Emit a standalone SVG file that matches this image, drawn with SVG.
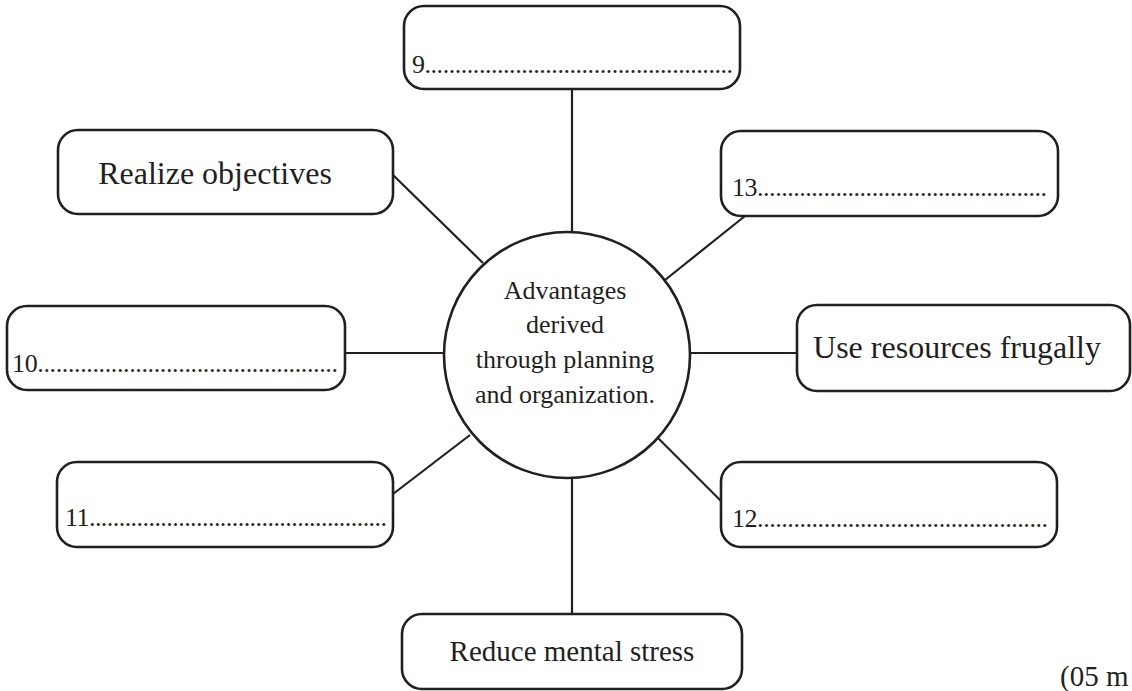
<svg xmlns="http://www.w3.org/2000/svg" width="1132" height="691" viewBox="0 0 1132 691">
<style>
.box{fill:#fff;stroke:#231f20;stroke-width:2.6}
.ln{stroke:#231f20;stroke-width:2.2;fill:none}
.lbl{font-family:"Liberation Serif","Times New Roman",serif;fill:#231f20}
.big{font-size:32px;text-anchor:middle}
.mid{font-size:26px;text-anchor:middle}
.num{font-size:26px}
</style>
<rect width="1132" height="691" fill="#fff"/>
<g id="connectors">
<line class="ln" x1="572" y1="89" x2="572" y2="233"/>
<line class="ln" x1="393" y1="175" x2="483" y2="263"/>
<line class="ln" x1="745" y1="216" x2="665" y2="280"/>
<line class="ln" x1="345" y1="353" x2="445" y2="353"/>
<line class="ln" x1="690" y1="353" x2="797" y2="353"/>
<line class="ln" x1="393" y1="494" x2="470" y2="435"/>
<line class="ln" x1="658" y1="438" x2="721" y2="501"/>
<line class="ln" x1="572" y1="477" x2="572" y2="614"/>
</g>
<g id="center">
<circle class="box" cx="567" cy="355" r="123"/>
<text class="lbl mid" x="565" y="299">Advantages</text>
<text class="lbl mid" x="565" y="333">derived</text>
<text class="lbl mid" x="565" y="368">through planning</text>
<text class="lbl mid" x="565" y="403">and organization.</text>
</g>
<g id="n9">
<rect class="box" x="404" y="6" width="336" height="83" rx="20"/>
<text class="lbl num" x="412" y="73" textLength="321" lengthAdjust="spacing">9...................................................</text>
</g>
<g id="realize">
<rect class="box" x="58" y="130" width="335" height="84" rx="20"/>
<text class="lbl big" x="215" y="184">Realize objectives</text>
</g>
<g id="n13">
<rect class="box" x="721" y="131" width="337" height="85" rx="20"/>
<text class="lbl num" x="732" y="196" textLength="315" lengthAdjust="spacing">13................................................</text>
</g>
<g id="n10">
<rect class="box" x="7" y="306" width="338" height="84" rx="20"/>
<text class="lbl num" x="12" y="372" textLength="326" lengthAdjust="spacing">10.................................................</text>
</g>
<g id="use">
<rect class="box" x="797" y="305" width="333" height="86" rx="20"/>
<text class="lbl big" x="957" y="358">Use resources frugally</text>
</g>
<g id="n11">
<rect class="box" x="57" y="462" width="336" height="85" rx="20"/>
<text class="lbl num" x="65" y="526" textLength="322" lengthAdjust="spacing">11..................................................</text>
</g>
<g id="n12">
<rect class="box" x="721" y="462" width="336" height="85" rx="20"/>
<text class="lbl num" x="732" y="527" textLength="316" lengthAdjust="spacing">12................................................</text>
</g>
<g id="reduce">
<rect class="box" x="402" y="614" width="340" height="75" rx="20"/>
<text class="lbl big" x="572" y="661" style="font-size:29px">Reduce mental stress</text>
</g>
<text class="lbl" x="1060" y="686" style="font-size:29px">(05 m</text>
</svg>
